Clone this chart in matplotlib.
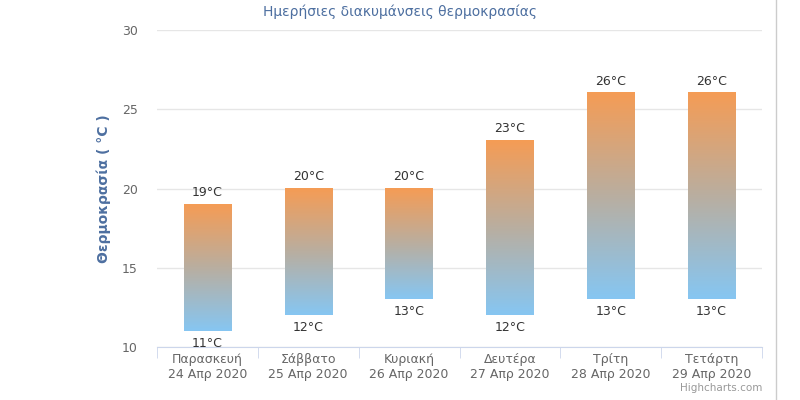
import matplotlib
matplotlib.use("Agg")
import matplotlib.pyplot as plt
import numpy as np
from matplotlib.colors import LinearSegmentedColormap

categories = ["Παρασκευή\n24 Απρ 2020", "Σάββατο\n25 Απρ 2020", "Κυριακή\n26 Απρ 2020",
              "Δευτέρα\n27 Απρ 2020", "Τρίτη\n28 Απρ 2020", "Τετάρτη\n29 Απρ 2020"]
lows = [11, 12, 13, 12, 13, 13]
highs = [19, 20, 20, 23, 26, 26]
yticks = [10, 15, 20, 25, 30]

plt.rcParams['font.family'] = ['DejaVu Sans']
fig = plt.figure(figsize=(8, 4), dpi=100)
ax = fig.add_axes([157/800, 1-347/400, (762-157)/800, (347-30)/400])
cmap = LinearSegmentedColormap.from_list("g", ["#86c6f2", "#b9aea0", "#f59c55"])
grad = np.linspace(0, 1, 256).reshape(-1, 1)
w = 0.47
for i, (lo, hi) in enumerate(zip(lows, highs)):
    ax.imshow(grad, cmap=cmap, origin="lower", aspect="auto",
              extent=(i - w/2, i + w/2, lo, hi), zorder=3)
    ax.text(i, hi + 0.35, f"{hi}°C", ha="center", va="bottom", fontsize=9, color="#333333", zorder=4)
    ax.text(i, lo - 0.35, f"{lo}°C", ha="center", va="top", fontsize=9, color="#333333", zorder=4)

ax.set_xlim(-0.5, len(categories) - 0.5)
ax.set_ylim(10, 30)
ax.set_yticks(yticks)
ax.set_yticklabels([str(t) for t in yticks], color="#666666", fontsize=9)
ax.grid(axis="y", color="#e6e6e6", linewidth=1, zorder=0)
ax.set_xticks(range(len(categories)))
ax.set_xticklabels(categories, color="#666666", fontsize=9)
ax.set_xticks(np.arange(-0.5, len(categories)), minor=True)
ax.tick_params(axis="x", which="major", length=0, pad=4)
ax.tick_params(axis="x", which="minor", length=8, color="#ccd6eb")
ax.tick_params(axis="y", length=0, pad=14)
for s in ["top", "right", "left"]:
    ax.spines[s].set_visible(False)
ax.spines["bottom"].set_color("#ccd6eb")
ax.set_ylabel("Θερμοκρασία ( °C )", color="#4d6fa0", fontsize=10, fontweight="bold", labelpad=8)
fig.text(0.5, 0.97, "Ημερήσιες διακυμάνσεις θερμοκρασίας", ha="center", va="center",
         color="#4d6fa0", fontsize=10)
fig.text(762/800, 1-388/400, "Highcharts.com", ha="right", va="center", color="#999999", fontsize=7.5)
fig.add_artist(plt.Line2D([776/800, 776/800], [0, 1], color="#cccccc", linewidth=1))
fig.savefig("out.png", dpi=100)
